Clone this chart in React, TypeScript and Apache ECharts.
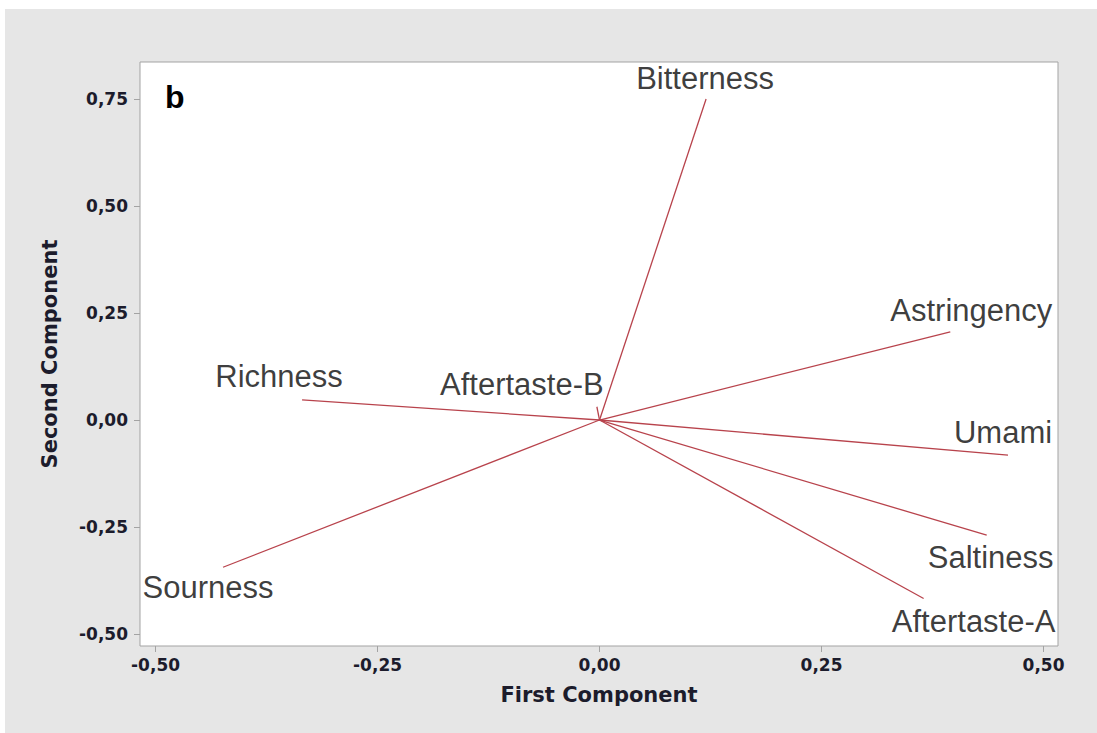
import React, { useEffect, useRef } from "react";
import * as echarts from "echarts";

// Loadings of each taste attribute on the first two principal components
const variables = [
  "Bitterness",
  "Astringency",
  "Umami",
  "Saltiness",
  "Aftertaste-A",
  "Sourness",
  "Richness",
  "Aftertaste-B",
];
const firstComponent = [0.12, 0.395, 0.46, 0.436, 0.365, -0.424, -0.335, -0.003];
const secondComponent = [0.75, 0.206, -0.082, -0.269, -0.417, -0.344, 0.047, 0.031];

// Tick values on each axis
const xTicks = [-0.5, -0.25, 0, 0.25, 0.5];
const yTicks = [-0.5, -0.25, 0, 0.25, 0.5, 0.75];

// Pixel shift of each variable's name from the tip of its vector
const labelOffsets: [number, number][] = [
  [-1, -21],
  [21, -21],
  [-5, -23],
  [4, 22],
  [50, 23],
  [-15, 20],
  [-23, -23],
  [-75, -22],
];

const VECTOR_COLOR = "#b8434c";
const TICK_FONT = "DejaVu Sans";
const LABEL_FONT = "Liberation Sans";

const fmt = (v: number) => v.toFixed(2).replace(".", ",");

export default function App() {
  const ref = useRef<HTMLDivElement>(null);

  useEffect(() => {
    if (!ref.current) return;
    const chart = echarts.init(ref.current, undefined, { renderer: "svg" });

    const axisLabelStyle = {
      fontFamily: TICK_FONT,
      fontWeight: "bold" as const,
      fontSize: 17,
      color: "#1c1c2c",
      formatter: (v: number) => fmt(v),
    };
    const axisNameStyle = {
      fontFamily: TICK_FONT,
      fontWeight: "bold" as const,
      fontSize: 21,
      color: "#1c1c2c",
    };

    chart.setOption({
      animation: false,
      backgroundColor: "#e6e6e6",
      graphic: [
        { type: "rect", shape: { x: 0, y: 0, width: 1097, height: 9 }, style: { fill: "#ffffff" }, silent: true },
        { type: "rect", shape: { x: 0, y: 0, width: 5, height: 733 }, style: { fill: "#ffffff" }, silent: true },
        {
          type: "text",
          x: 165,
          y: 97,
          z: 10,
          style: {
            text: "b",
            font: `bold 32px "${LABEL_FONT}"`,
            fill: "#000000",
            verticalAlign: "middle",
          },
          silent: true,
        },
      ],
      grid: {
        left: 140,
        right: 39,
        top: 62,
        bottom: 87,
        show: true,
        backgroundColor: "#ffffff",
        borderColor: "#a3a3a3",
        borderWidth: 1,
      },
      xAxis: {
        type: "value",
        min: -0.5175,
        max: 0.5163,
        name: "First Component",
        nameLocation: "middle",
        nameGap: 38,
        nameTextStyle: axisNameStyle,
        axisLine: { show: false, onZero: false },
        axisTick: {
          show: true,
          length: 6,
          customValues: xTicks,
          lineStyle: { color: "#a3a3a3" },
        },
        axisLabel: { ...axisLabelStyle, margin: 10, customValues: xTicks },
        splitLine: { show: false },
      },
      yAxis: {
        type: "value",
        min: -0.528,
        max: 0.8365,
        name: "Second Component",
        nameLocation: "middle",
        nameGap: 80,
        nameTextStyle: axisNameStyle,
        axisLine: { show: false, onZero: false },
        axisTick: {
          show: true,
          length: 6,
          customValues: yTicks,
          lineStyle: { color: "#a3a3a3" },
        },
        axisLabel: { ...axisLabelStyle, margin: 12, customValues: yTicks },
        splitLine: { show: false },
      },
      series: [
        {
          type: "lines",
          coordinateSystem: "cartesian2d",
          silent: true,
          lineStyle: { color: VECTOR_COLOR, width: 1.3, opacity: 1 },
          data: variables.map((_, i) => ({
            coords: [
              [0, 0],
              [firstComponent[i], secondComponent[i]],
            ],
          })),
        },
        {
          type: "scatter",
          symbolSize: 1,
          silent: true,
          itemStyle: { color: "transparent" },
          label: {
            show: true,
            position: "inside",
            formatter: "{b}",
            fontFamily: LABEL_FONT,
            fontSize: 31,
            color: "#0a0a0a",
            align: "center",
            verticalAlign: "middle",
          },
          data: variables.map((name, i) => ({
            name,
            value: [firstComponent[i], secondComponent[i]],
            label: { offset: labelOffsets[i] },
          })),
        },
      ],
    });

    return () => chart.dispose();
  }, []);

  return (
    <div
      ref={ref}
      style={{ position: "fixed", left: 0, top: 0, width: 1097, height: 733 }}
    />
  );
}
